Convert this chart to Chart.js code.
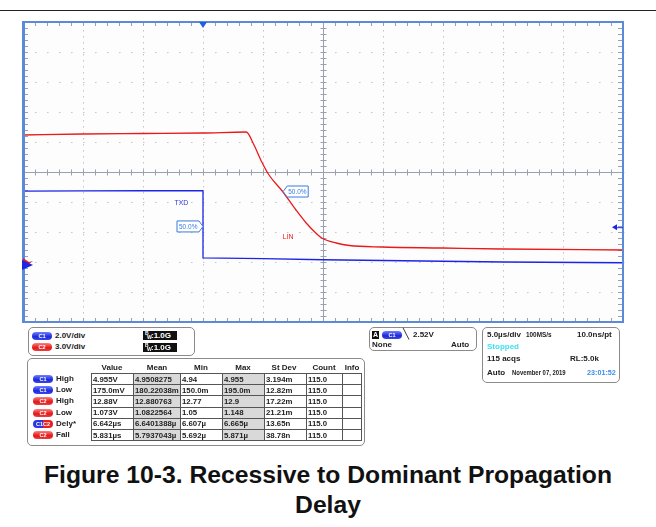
<!DOCTYPE html>
<html lang="en">
<head>
<meta charset="UTF-8">
<title>Recessive to Dominant Propagation Delay</title>
<script src="https://cdn.jsdelivr.net/npm/chart.js"></script>
<style>
  body { margin: 0; width: 656px; height: 527px; background: #fff; position: relative; overflow: hidden; font-family: "Liberation Sans", Arial, sans-serif; }
  #topline { position: absolute; left: 0; top: 10px; width: 656px; height: 1px; background: #222; z-index: 2; }
  #scope { position: absolute; left: 0; top: 0; }
  .box { position: absolute; box-sizing: border-box; border: 1px solid #8a8a8a; border-radius: 5px; background: #fff; }
  .t { position: absolute; font-size: 8px; font-weight: bold; color: #222; white-space: nowrap; line-height: 10px; }
  .pill { position: absolute; width: 20px; height: 8px; border-radius: 4px; color: #fff; font-size: 5.5px; font-weight: bold; text-align: center; line-height: 8px; }
  .c1 { background: linear-gradient(#7080ff, #1c28d8 60%, #3a48f0); }
  .c2 { background: linear-gradient(#ff8080, #e01818 60%, #f04040); }
  .c12 { background: linear-gradient(90deg, #2a36e8 50%, #e82020 50%); }
  .bw { position: absolute; width: 34px; height: 9px; background: #111; color: #fff; font-size: 8px; font-weight: bold; line-height: 9px; }
  .bw span { position: absolute; font-size: 5px; line-height: 5px; }
  .bw b { position: absolute; left: 8px; top: 0; }
  #meas { position: absolute; left: 91px; top: 373px; border-collapse: collapse; }
  #meas td { border: 1px solid #555; height: 10.2px; padding: 0 0 0 1px; font-size: 7.8px; font-weight: bold; color: #222; line-height: 9px; white-space: nowrap; overflow: hidden; }
  #meas td.g { background: #d9d9d9; }
  #caption { position: absolute; left: 0; top: 460px; width: 656px; text-align: center; font-size: 24.7px; font-weight: bold; line-height: 30px; color: #111; }
  .sq { display: inline-block; transform-origin: left center; }
</style>
</head>
<body>
<div id="topline"></div>
<canvas id="scope" width="656" height="330"></canvas>

<!-- channel settings -->
<div class="box" style="left:28px; top:327px; width:167px; height:29px;"></div>
<div class="pill c1" style="left:32px; top:332px;">C1</div>
<div class="t" style="left:55px; top:331px;">2.0V/div</div>
<div class="bw" style="left:143px; top:331px;"><span style="left:2px; top:0px;">B</span><span style="left:4px; top:4px;">W</span><b>:1.0G</b></div>
<div class="pill c2" style="left:32px; top:343px;">C2</div>
<div class="t" style="left:55px; top:342px;">3.0V/div</div>
<div class="bw" style="left:143px; top:343px;"><span style="left:2px; top:0px;">B</span><span style="left:4px; top:4px;">W</span><b>:1.0G</b></div>

<!-- measurements -->
<div class="box" style="left:27px; top:358px; width:338px; height:88px;"></div>
<div id="measHead"></div>
<div id="measLabels"></div>
<table id="meas"></table>

<!-- trigger -->
<div class="box" style="left:369px; top:327px; width:108px; height:24px;"></div>
<div class="t" style="left:372px; top:331px; width:7px; height:8px; background:#111; color:#fff; font-size:7px; line-height:8px; text-align:center;">A</div>
<div class="pill c1" style="left:382px; top:331px;">C1</div>
<div class="t" style="left:403px; top:329px; font-weight:normal; font-size:10px;">&#x2572;</div>
<div class="t" style="left:413px; top:330px;">2.52V</div>
<div class="t" style="left:372px; top:340px;">None</div>
<div class="t" style="left:451px; top:340px;">Auto</div>

<!-- timebase -->
<div class="box" style="left:482px; top:327px; width:138px; height:56px;"></div>
<div class="t" style="left:487px; top:330px;">5.0µs/div</div>
<div class="t" style="left:526px; top:330px;"><span class="sq" style="transform:scaleX(0.8)">100MS/s</span></div>
<div class="t" style="left:577px; top:330px;">10.0ns/pt</div>
<div class="t" style="left:487px; top:342px; color:#3ee0f0;">Stopped</div>
<div class="t" style="left:487px; top:354px;">115 acqs</div>
<div class="t" style="left:570px; top:354px;">RL:5.0k</div>
<div class="t" style="left:487px; top:368px;">Auto</div>
<div class="t" style="left:512px; top:368px;"><span class="sq" style="transform:scaleX(0.74)">November 07, 2019</span></div>
<div class="t" style="left:587px; top:368px; color:#3b8ee8;"><span class="sq" style="transform:scaleX(0.9)">23:01:52</span></div>

<div id="caption">Figure 10-3. Recessive to Dominant Propagation<br>Delay</div>

<script>
// TXD (C1, 2.0V/div) – time in µs, volts
const txdTime  = [-15, -10, -5, 0, 0, 5, 10, 15, 20, 25, 35];
const txdVolts = [4.93, 4.94, 4.95, 4.95, 0.47, 0.42, 0.35, 0.3, 0.25, 0.2, 0.15];

// LIN (C2, 3.0V/div)
const linTime  = [-15, -10, -5, 0, 3.6, 4.25, 4.9, 5.5, 6.6, 7.75, 8.6, 9.4, 9.9, 11.1, 12.2, 14.9, 19.9, 24.9, 35];
const linVolts = [12.7, 12.8, 12.85, 12.9, 13.0, 11.7, 10.0, 8.7, 7.1, 5.2, 3.9, 2.9, 2.4, 1.9, 1.65, 1.5, 1.4, 1.3, 1.2];

// screen: 10 divs x 5µs, trigger at t=0
const timeMin = -15, timeMax = 35, timeDiv = 5;
const trigLevel = 2.52;

// measurement table
const measHeaders = ["Value", "Mean", "Min", "Max", "St Dev", "Count", "Info"];
const measChan  = ["C1", "C1", "C2", "C2", "C1C2", "C2"];
const measName  = ["High", "Low", "High", "Low", "Dely*", "Fall"];
const measValue = ["4.955V", "175.0mV", "12.88V", "1.073V", "6.642µs", "5.831µs"];
const measMean  = ["4.9508275", "180.22038m", "12.880763", "1.0822564", "6.6401388µ", "5.7937043µ"];
const measMin   = ["4.94", "150.0m", "12.77", "1.05", "6.607µ", "5.692µ"];
const measMax   = ["4.955", "195.0m", "12.9", "1.148", "6.665µ", "5.871µ"];
const measStd   = ["3.194m", "12.82m", "17.22m", "21.21m", "13.65n", "38.78n"];
const measCount = ["115.0", "115.0", "115.0", "115.0", "115.0", "115.0"];

// labels on the screen
const txdLabel = { t: -1.8, v: 4.13 };
const linLabel = { t: 7.1, v: 2.5 };
const txdMid = { t: 0, v: 2.57 };
const linMid = { t: 6.6, v: 7.05 };

// ---- table ----
const colW = [42, 47, 42, 42, 42, 36, 19];
const headX = [112, 157, 201, 243, 284, 324, 352];
let head = "";
measHeaders.forEach((h, i) => {
  head += `<div class="t" style="left:${headX[i] - 20}px; width:40px; text-align:center; top:363px; font-size:8px;">${h}</div>`;
});
document.getElementById("measHead").innerHTML = head;

let rows = "", labels = "";
measName.forEach((n, i) => {
  const cells = [measValue[i], measMean[i], measMin[i], measMax[i], measStd[i], measCount[i], ""];
  rows += "<tr>" + cells.map((c, j) =>
    `<td class="${j === 1 || j === 3 ? "g" : ""}" style="width:${colW[j] - 2}px; max-width:${colW[j] - 2}px">${c}</td>`).join("") + "</tr>";
  const y = 375 + i * 11.2;
  const cls = measChan[i] === "C1" ? "c1" : measChan[i] === "C2" ? "c2" : "c12";
  labels += `<div class="pill ${cls}" style="left:33px; top:${y}px;">${measChan[i]}</div>`;
  labels += `<div class="t" style="left:56px; top:${y - 1}px;">${n}</div>`;
});
document.getElementById("meas").innerHTML = rows;
document.getElementById("measLabels").innerHTML = labels;

// ---- scope screen ----
const BLUE = "rgb(28,36,230)";
const RED = "rgb(235,25,25)";
const FRAME = "#5a8ad8";

const scopeGrid = {
  id: "scopeGrid",
  beforeDatasetsDraw(chart) {
    const { ctx, chartArea: a, scales } = chart;
    const x = scales.x, d = scales.div;
    ctx.save();
    ctx.fillStyle = "#fdfdfd";
    ctx.fillRect(a.left, a.top, a.width, a.height);

    // dotted grid
    ctx.fillStyle = "#c4c4c4";
    for (let t = timeMin + timeDiv; t < timeMax; t += timeDiv) {
      const px = Math.round(x.getPixelForValue(t));
      for (let py = a.top + 2; py < a.bottom; py += 6) ctx.fillRect(px, py, 1, 1.5);
    }
    for (let k = -4; k <= 4; k++) {
      const py = Math.round(d.getPixelForValue(k));
      for (let t = timeMin; t <= timeMax; t += 1) ctx.fillRect(Math.round(x.getPixelForValue(t)), py, 1.5, 1);
    }

    // centre cross with ticks
    const cx = Math.round(x.getPixelForValue((timeMin + timeMax) / 2)) + 0.5;
    const cy = Math.round(d.getPixelForValue(0)) + 0.5;
    ctx.strokeStyle = "#9aa0b4";
    ctx.lineWidth = 1;
    ctx.beginPath();
    ctx.moveTo(cx, a.top); ctx.lineTo(cx, a.bottom);
    ctx.moveTo(a.left, cy); ctx.lineTo(a.right, cy);
    for (let t = timeMin; t <= timeMax; t += 1) {
      const px = Math.round(x.getPixelForValue(t)) + 0.5;
      ctx.moveTo(px, cy - 3); ctx.lineTo(px, cy + 3);
      ctx.moveTo(px, a.top); ctx.lineTo(px, a.top + 4);
      ctx.moveTo(px, a.bottom); ctx.lineTo(px, a.bottom - 4);
    }
    for (let k = -5; k <= 5; k += 0.2) {
      const py = Math.round(d.getPixelForValue(k)) + 0.5;
      ctx.moveTo(cx - 3, py); ctx.lineTo(cx + 3, py);
      ctx.moveTo(a.left, py); ctx.lineTo(a.left + 5, py);
      ctx.moveTo(a.right, py); ctx.lineTo(a.right - 5, py);
    }
    ctx.stroke();
    ctx.restore();
  },
  afterDatasetsDraw(chart) {
    const { ctx, chartArea: a, scales } = chart;
    const x = scales.x, yb = scales.yb, yr = scales.yr;
    ctx.save();
    // frame
    ctx.strokeStyle = FRAME;
    ctx.lineWidth = 2;
    ctx.strokeRect(a.left, a.top, a.width, a.height);
    ctx.fillStyle = FRAME;
    ctx.fillRect(a.left - 1, a.top - 1, 3, a.height + 2);

    // trigger position marker
    const tx = x.getPixelForValue(0);
    ctx.fillStyle = "#1f5fe0";
    ctx.beginPath();
    ctx.moveTo(tx - 4, a.top); ctx.lineTo(tx + 4, a.top); ctx.lineTo(tx, a.top + 6); ctx.closePath();
    ctx.fill();

    // trigger level arrow
    const ty = yb.getPixelForValue(trigLevel);
    ctx.fillStyle = BLUE; ctx.strokeStyle = BLUE; ctx.lineWidth = 1;
    ctx.beginPath();
    ctx.moveTo(a.right - 11, ty); ctx.lineTo(a.right - 6, ty - 3); ctx.lineTo(a.right - 6, ty + 3); ctx.closePath();
    ctx.fill();
    ctx.beginPath(); ctx.moveTo(a.right - 6, ty + 0.5); ctx.lineTo(a.right, ty + 0.5); ctx.stroke();

    // ground markers
    const gr = yr.getPixelForValue(0), gb = yb.getPixelForValue(0);
    ctx.fillStyle = RED;
    ctx.beginPath();
    ctx.moveTo(a.left, gr - 4); ctx.lineTo(a.left + 6, gr); ctx.lineTo(a.left + 10, gr - 1); ctx.lineTo(a.left + 6, gr + 2); ctx.lineTo(a.left, gr + 1); ctx.closePath();
    ctx.fill();
    ctx.fillStyle = BLUE;
    ctx.beginPath();
    ctx.moveTo(a.left - 1, gb - 5); ctx.lineTo(a.left + 10, gb); ctx.lineTo(a.left - 1, gb + 5); ctx.closePath();
    ctx.fill();

    // 50% labels
    ctx.font = '6.5px "Liberation Sans", Arial';
    ctx.textBaseline = "middle";
    const bx = x.getPixelForValue(txdMid.t), by = yb.getPixelForValue(txdMid.v);
    ctx.strokeStyle = "#3a7be0"; ctx.fillStyle = "#fff"; ctx.lineWidth = 1;
    ctx.beginPath();
    ctx.moveTo(bx, by); ctx.lineTo(bx - 4, by - 5.5); ctx.lineTo(bx - 26, by - 5.5); ctx.lineTo(bx - 26, by + 5.5); ctx.lineTo(bx - 4, by + 5.5); ctx.closePath();
    ctx.fill(); ctx.stroke();
    ctx.fillStyle = "#3a7be0"; ctx.textAlign = "left";
    ctx.fillText("50.0%", bx - 24, by + 0.5);

    const rx = x.getPixelForValue(linMid.t), ry = yr.getPixelForValue(linMid.v);
    ctx.fillStyle = "#fff";
    ctx.beginPath();
    ctx.moveTo(rx + 1, ry); ctx.lineTo(rx + 5, ry - 5.5); ctx.lineTo(rx + 26, ry - 5.5); ctx.lineTo(rx + 26, ry + 5.5); ctx.lineTo(rx + 5, ry + 5.5); ctx.closePath();
    ctx.fill(); ctx.stroke();
    ctx.fillStyle = "#3a7be0";
    ctx.fillText("50.0%", rx + 6, ry + 0.5);

    // trace names
    ctx.font = '7px "Liberation Sans", Arial';
    ctx.textAlign = "center";
    ctx.fillStyle = "#3838e0";
    ctx.fillText("TXD", x.getPixelForValue(txdLabel.t), yb.getPixelForValue(txdLabel.v));
    ctx.fillStyle = RED;
    ctx.fillText("LIN", x.getPixelForValue(linLabel.t), yr.getPixelForValue(linLabel.v));
    ctx.restore();
  }
};

new Chart(document.getElementById("scope"), {
  type: "line",
  data: {
    datasets: [
      {
        label: "LIN",
        data: linTime.map((t, i) => ({ x: t, y: linVolts[i] })),
        yAxisID: "yr",
        borderColor: RED,
        borderWidth: 1.3,
        pointRadius: 0,
        cubicInterpolationMode: "monotone"
      },
      {
        label: "TXD",
        data: txdTime.map((t, i) => ({ x: t, y: txdVolts[i] })),
        yAxisID: "yb",
        borderColor: BLUE,
        borderWidth: 1.3,
        pointRadius: 0,
        tension: 0
      }
    ]
  },
  options: {
    responsive: false,
    animation: false,
    layout: { padding: { left: 23, top: 22, right: 33, bottom: 8 } },
    plugins: { legend: { display: false }, tooltip: { enabled: false } },
    scales: {
      x: { type: "linear", axis: "x", min: timeMin, max: timeMax, display: false },
      yb: { type: "linear", axis: "y", min: -3.8, max: 16.2, display: false },
      yr: { type: "linear", axis: "y", min: -6, max: 24, display: false },
      div: { type: "linear", axis: "y", min: -5, max: 5, display: false }
    }
  },
  plugins: [scopeGrid]
});
</script>
</body>
</html>
